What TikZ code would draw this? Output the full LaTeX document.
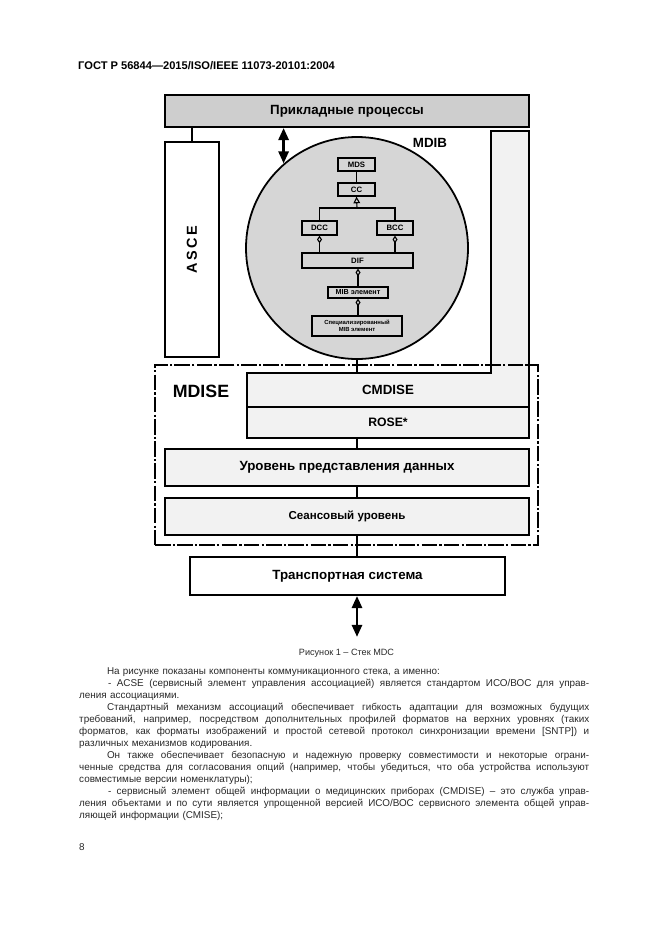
\documentclass[tikz,border=0pt]{standalone}
\usepackage{fontspec}
\setmainfont{Liberation Sans}
\usepackage{xcolor}
\definecolor{appgray}{RGB}{206,206,206}
\definecolor{mibgray}{RGB}{214,214,214}
\definecolor{layergray}{RGB}{242,242,242}
\definecolor{bodytext}{RGB}{40,40,40}
\usetikzlibrary{arrows.meta,positioning,fit}
\newcommand{\jl}[1]{\leavevmode{\spaceskip=0.28em plus 1.5em minus 0.05em\hbox to 459pt{#1}}}

\begin{document}
\begin{tikzpicture}[x=0.9pt, y=-0.9pt,
  layer/.style={draw, line width=1.6pt, inner sep=0pt, font=\bfseries\fontsize{12}{14}\selectfont},
  uml/.style={draw, line width=1.1pt, inner sep=0pt, font=\bfseries\fontsize{7}{8}\selectfont},
  link/.style={line width=2pt},
  part/.style={line width=1pt},
  bigarrow/.style={line width=2.6pt, {Triangle[length=11pt,width=9pt]}-{Triangle[length=11pt,width=9pt]}}]
  \useasboundingbox (0,0) rectangle (661,935);

  \node[anchor=west, inner sep=0pt, font=\bfseries\fontsize{10}{12}\selectfont] (header) at (78,66) {ГОСТ Р 56844—2015/ISO/IEEE 11073-20101:2004};

  \node[layer, fill=appgray, minimum width=327.6pt, minimum height=28.8pt] (apps) at (347,111) {Прикладные процессы};
  \node[layer, fill=white, minimum width=48.6pt, minimum height=193.5pt] (asce) at (192,249.5) {};
  \node[rotate=90, font=\bfseries\fontsize{13}{14}\selectfont\addfontfeature{LetterSpace=18}] (asceLabel) at (asce.center) {ASCE};
  \draw[layer] (asce.north) -- (apps.south -| asce.north);

  \draw[line width=1.6pt, fill=layergray] (247,373) -- (491,373) -- (491,131) -- (529,131) -- (529,407) -- (247,407) -- cycle;
  \node[layer, draw=none, minimum width=253.8pt, minimum height=30.6pt] (cmdise) at (388,390) {CMDISE};
  \node[layer, fill=layergray, minimum width=253.8pt, minimum height=27.9pt, font=\bfseries\fontsize{11}{13}\selectfont] (rose) at (388,422.5) {ROSE*};

  \node[circle, draw, line width=1.6pt, fill=mibgray, minimum size=199.8pt, inner sep=0pt] (mdib) at (357,248) {};
  \node[font=\bfseries\fontsize{12}{14}\selectfont] (mdibLabel) at (430,143) {MDIB};
  \draw[bigarrow] (apps.south -| mdib.131) -- (mdib.131);

  \node[uml, minimum width=33.3pt, minimum height=11.7pt] (mds) at (356.5,164.5) {MDS};
  \node[uml, minimum width=33.3pt, minimum height=11.7pt] (cc) at (356.5,189.5) {CC};
  \node[uml, minimum width=31.5pt, minimum height=12.6pt] (dcc) at (319.5,228) {DCC};
  \node[uml, minimum width=32.4pt, minimum height=12.6pt] (bcc) at (395,228) {BCC};
  \node[uml, minimum width=99.9pt, minimum height=13.5pt] (dif) at (357.5,260.5) {DIF};
  \node[uml, minimum width=54pt, minimum height=9.9pt, font=\bfseries\fontsize{6.5}{7}\selectfont] (mib) at (358,292.5) {MIB элемент};
  \node[uml, minimum width=81pt, minimum height=18pt, align=center, font=\bfseries\fontsize{5.3}{6.5}\selectfont] (spec) at (357,326) {Специализированный\\MIB элемент};
  \coordinate (split) at (357,208);

  \draw[part] (mds.south) -- (cc.north);
  \draw[part] (dcc.north) |- (split) -| (bcc.north);
  \draw[part, -{Triangle[open,length=6pt,width=6pt]}] (split) -- (cc.south);
  \draw[part, {Diamond[open,length=7pt,width=4.5pt]}-] (dcc.south) -- (dcc.south |- dif.north);
  \draw[part, {Diamond[open,length=7pt,width=4.5pt]}-] (bcc.south) -- (bcc.south |- dif.north);
  \draw[part, {Diamond[open,length=7pt,width=4.5pt]}-] (dif.south -| mib.north) -- (mib.north);
  \draw[part, {Diamond[open,length=7pt,width=4.5pt]}-] (mib.south) -- (spec.north -| mib.south);

  \node[layer, fill=layergray, minimum width=327.6pt, minimum height=33.3pt] (pres) at (347,467.5) {Уровень представления данных};
  \node[layer, fill=layergray, minimum width=327.6pt, minimum height=33.3pt, font=\bfseries\fontsize{10.4}{12}\selectfont] (sess) at (347,516.5) {Сеансовый уровень};
  \node[layer, fill=white, minimum width=283.5pt, minimum height=34.2pt] (transp) at (347.5,576) {Транспортная система};
  \coordinate (net) at (357,637);

  \node[draw, line width=1.3pt, inner sep=0pt, dash pattern=on 14pt off 2pt on 2pt off 2pt, fit={(155,365) (538,545)}] (mdise) {};
  \node[font=\bfseries\fontsize{16}{18}\selectfont] (mdiseLabel) at (201,391) {MDISE};

  \draw[link] (mdib.south) -- (mdib.south |- cmdise.north);
  \draw[link] (mdib.south |- rose.south) -- (mdib.south |- pres.north);
  \draw[link] (mdib.south |- pres.south) -- (mdib.south |- sess.north);
  \draw[link] (mdib.south |- sess.south) -- (mdib.south |- transp.north);
  \draw[bigarrow] (transp.south -| net) -- (net);

  \node[font=\fontsize{8.2}{10}\selectfont, text=bodytext] (caption) at (346.5,653) {Рисунок 1 – Стек MDC};

  \node[anchor=north west, inner sep=0pt, text width=459pt, align=left, text=bodytext, font=\fontsize{8.9}{10.8}\selectfont] (body) at (79,667) {%
\hspace*{25pt}На рисунке показаны компоненты коммуникационного стека, а именно:\\
\jl{\hspace*{26pt}- ACSE (сервисный элемент управления ассоциацией) является стандартом ИСО/ВОС для управ-}\\
ления ассоциациями.\\
\jl{\hspace*{25pt}Стандартный механизм ассоциаций обеспечивает гибкость адаптации для возможных будущих}\\
\jl{требований, например, посредством дополнительных профилей форматов на верхних уровнях (таких}\\
\jl{форматов, как форматы изображений и простой сетевой протокол синхронизации времени [SNTP]) и}\\
различных механизмов кодирования.\\
\jl{\hspace*{25pt}Он также обеспечивает безопасную и надежную проверку совместимости и некоторые ограни-}\\
\jl{ченные средства для согласования опций (например, чтобы убедиться, что оба устройства используют}\\
совместимые версии номенклатуры);\\
\jl{\hspace*{26pt}- сервисный элемент общей информации о медицинских приборах (CMDISE) – это служба управ-}\\
\jl{ления объектами и по сути является упрощенной версией ИСО/ВОС сервисного элемента общей управ-}\\
ляющей информации (CMISE);};

  \node[anchor=west, inner sep=0pt, font=\fontsize{8.9}{10.8}\selectfont, text=bodytext] (pageNo) at (79,847) {8};
\end{tikzpicture}
\end{document}
